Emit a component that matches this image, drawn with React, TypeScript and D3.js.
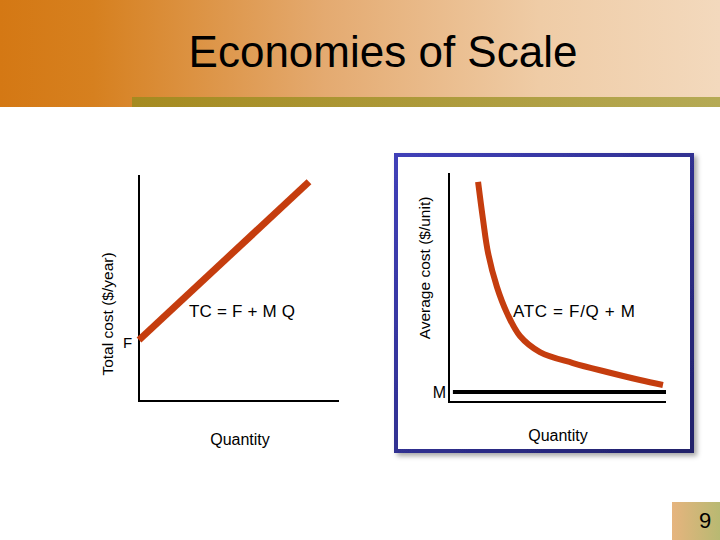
import React from "react";
import * as d3 from "d3";

// ---- Data ----
const title = "Economies of Scale";
const pageNumber = "9";

// Left panel: total cost line TC = F + M Q (quantity 0..100, cost 0..100)
const tcQuantity = [0, 85];
const tcCost = [27, 97];
const fixedCostLabel = "F";
const tcLabel = "TC = F + M Q";
const leftYLabel = "Total cost ($/year)";
const xLabel = "Quantity";

// Right panel: average total cost curve ATC = F/Q + M
const atcQuantity = [13.4, 15.7, 18.0, 22.1, 26.7, 32.7, 41.9, 57.1, 72.8, 88.0, 98.6];
const atcCost = [96.1, 79.5, 65.1, 50.2, 38.9, 28.8, 21.8, 17.0, 13.1, 9.6, 7.4];
const mQuantity = [1.8, 100];
const mCost = 4.4;
const mLabel = "M";
const atcLabel = "ATC = F/Q + M";
const rightYLabel = "Average cost ($/unit)";

const FONT = "'Liberation Sans', Arial, sans-serif";
const CURVE = "#c53d0e";

export default function App() {
  const lx = d3.scaleLinear().domain([0, 100]).range([139, 339]);
  const ly = d3.scaleLinear().domain([0, 100]).range([401, 175]);
  const rx = d3.scaleLinear().domain([0, 100]).range([449, 666]);
  const ry = d3.scaleLinear().domain([0, 100]).range([402, 173]);

  const tcLine = d3
    .line<number>()
    .x((d) => lx(tcQuantity[d]))
    .y((d) => ly(tcCost[d]));
  const atcLine = d3
    .line<number>()
    .x((d) => rx(atcQuantity[d]))
    .y((d) => ry(atcCost[d]))
    .curve(d3.curveCatmullRom.alpha(0.5));

  const tcIdx = tcQuantity.map((_, i) => i);
  const atcIdx = atcQuantity.map((_, i) => i);

  return (
    <svg
      width={720}
      height={540}
      style={{ position: "absolute", left: 0, top: 0, display: "block" }}
      fontFamily={FONT}
    >
      <defs>
        <linearGradient id="hdr" x1="0" x2="1" y1="0" y2="0">
          <stop offset="0" stopColor="#d47814" />
          <stop offset="0.13" stopColor="#d6801f" />
          <stop offset="0.45" stopColor="#e4aa70" />
          <stop offset="0.75" stopColor="#efcca6" />
          <stop offset="1" stopColor="#f3d9bd" />
        </linearGradient>
        <linearGradient id="olive" x1="0" x2="1" y1="0" y2="0">
          <stop offset="0" stopColor="#a58a20" />
          <stop offset="1" stopColor="#b5aa55" />
        </linearGradient>
        <linearGradient id="pg" x1="0" x2="1" y1="0" y2="0">
          <stop offset="0" stopColor="#e6b47e" />
          <stop offset="1" stopColor="#b8b972" />
        </linearGradient>
        <linearGradient id="frame" x1="0" x2="1" y1="0" y2="1">
          <stop offset="0" stopColor="#4040b8" />
          <stop offset="1" stopColor="#20206a" />
        </linearGradient>
        <filter id="shadow" x="-10%" y="-10%" width="125%" height="125%">
          <feDropShadow dx="3" dy="3" stdDeviation="2.5" floodColor="#000" floodOpacity="0.35" />
        </filter>
      </defs>

      <rect x={0} y={0} width={720} height={540} fill="#ffffff" />

      {/* Header */}
      <rect x={0} y={0} width={720} height={107} fill="url(#hdr)" />
      <rect x={132} y={97} width={588} height={10} fill="url(#olive)" />
      <text x={383} y={67} textAnchor="middle" fontSize={44} fill="#000">
        {title}
      </text>

      {/* Left panel */}
      <line x1={lx(0)} x2={lx(0)} y1={ly(100)} y2={ly(0) + 1} stroke="#000" strokeWidth={2} />
      <line x1={lx(0)} x2={lx(100)} y1={ly(0)} y2={ly(0)} stroke="#000" strokeWidth={2} />
      <path d={tcLine(tcIdx) || ""} fill="none" stroke={CURVE} strokeWidth={7} strokeLinecap="butt" />
      <text x={123} y={348} fontSize={15} fill="#000">
        {fixedCostLabel}
      </text>
      <text x={189} y={317} fontSize={17} fill="#000" textLength={106} lengthAdjust="spacing">
        {tcLabel}
      </text>
      <text
        transform={`translate(113,314) rotate(-90)`}
        textAnchor="middle"
        fontSize={15.5}
        fill="#000"
      >
        {leftYLabel}
      </text>
      <text x={240} y={445} textAnchor="middle" fontSize={16} fill="#000">
        {xLabel}
      </text>

      {/* Right panel frame */}
      <rect
        x={396}
        y={155}
        width={296}
        height={296}
        fill="#ffffff"
        stroke="url(#frame)"
        strokeWidth={4}
        filter="url(#shadow)"
      />
      <line x1={rx(0)} x2={rx(0)} y1={ry(100)} y2={ry(0) + 1} stroke="#000" strokeWidth={2} />
      <line x1={rx(0)} x2={rx(100)} y1={ry(0)} y2={ry(0)} stroke="#000" strokeWidth={2} />
      <line
        x1={rx(mQuantity[0])}
        x2={rx(mQuantity[1])}
        y1={ry(mCost)}
        y2={ry(mCost)}
        stroke="#000"
        strokeWidth={4}
      />
      <path d={atcLine(atcIdx) || ""} fill="none" stroke={CURVE} strokeWidth={6} />
      <text x={446} y={ry(mCost) + 6} textAnchor="end" fontSize={16} fill="#000">
        {mLabel}
      </text>
      <text x={513} y={317} fontSize={17} fill="#000" textLength={122} lengthAdjust="spacing">
        {atcLabel}
      </text>
      <text
        transform={`translate(430,268) rotate(-90)`}
        textAnchor="middle"
        fontSize={15.5}
        fill="#000"
      >
        {rightYLabel}
      </text>
      <text x={558} y={441} textAnchor="middle" fontSize={16} fill="#000">
        {xLabel}
      </text>

      {/* Page number */}
      <rect x={672} y={502} width={48} height={38} fill="url(#pg)" />
      <text x={705} y={528} textAnchor="middle" fontSize={22} fill="#000">
        {pageNumber}
      </text>
    </svg>
  );
}
